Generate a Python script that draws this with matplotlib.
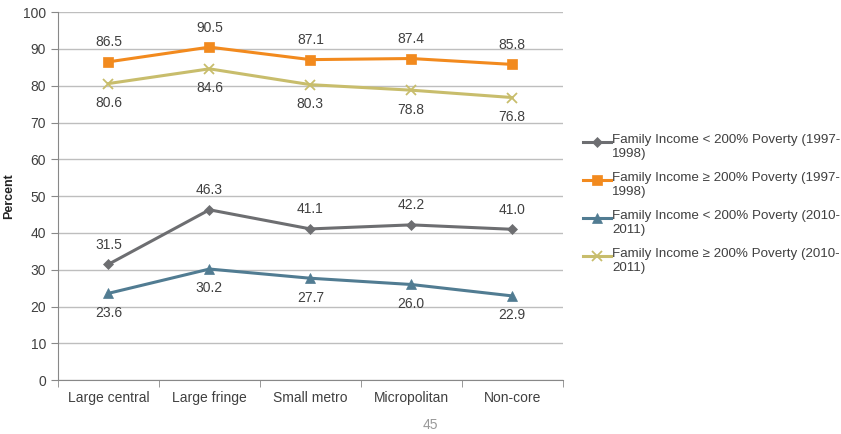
import matplotlib
matplotlib.use("Agg")
import matplotlib.pyplot as plt

plt.rcParams['font.family'] = ['Liberation Sans', 'DejaVu Sans']

categories = ["Large central", "Large fringe", "Small metro", "Micropolitan", "Non-core"]
low_9798 = [31.5, 46.3, 41.1, 42.2, 41.0]
high_9798 = [86.5, 90.5, 87.1, 87.4, 85.8]
low_1011 = [23.6, 30.2, 27.7, 26.0, 22.9]
high_1011 = [80.6, 84.6, 80.3, 78.8, 76.8]
labels = ["Family Income < 200% Poverty (1997-\n1998)",
          "Family Income \u2265 200% Poverty (1997-\n1998)",
          "Family Income < 200% Poverty (2010-\n2011)",
          "Family Income \u2265 200% Poverty (2010-\n2011)"]

series = [
    (low_9798, "#6D6E71", "D", 5, 1),
    (high_9798, "#F28A1E", "s", 7, 1),
    (low_1011, "#517C92", "^", 7, -1),
    (high_1011, "#C8BD6C", "x", 7, -1),
]

W, H = 841, 434
fig = plt.figure(figsize=(W / 100, H / 100), dpi=100)
ax = fig.add_axes([0.069, 0.124, 0.600, 0.848])
x = list(range(len(categories)))
for (vals, col, mk, ms, side), lab in zip(series, labels):
    ax.plot(x, vals, color=col, marker=mk, markersize=ms, linewidth=2.2,
            markeredgewidth=1.3 if mk == "x" else 0.5)
    for xi, v in zip(x, vals):
        ax.annotate(f"{v:.1f}", (xi, v), xytext=(0, 14 * side), textcoords="offset points",
                    ha="center", va="center", fontsize=10, color="#404040")

ax.set_xlim(-0.5, len(categories) - 0.5)
ax.set_ylim(0, 100)
ax.set_yticks(range(0, 101, 10))
ax.set_xticks(x)
ax.set_xticklabels(categories)
ax.set_xticks([i - 0.5 for i in range(len(categories) + 1)], minor=True)
ax.tick_params(axis="x", which="major", length=0, pad=8, labelsize=10, colors="#404040")
ax.tick_params(axis="x", which="minor", length=5, color="#888888")
ax.tick_params(axis="y", length=5, color="#888888", labelsize=10, colors="#404040")
ax.yaxis.grid(True, color="#BEBEBE", linewidth=1)
ax.set_axisbelow(True)
for s in ["top", "right"]:
    ax.spines[s].set_visible(False)
for s in ["left", "bottom"]:
    ax.spines[s].set_color("#888888")
ax.set_ylabel("Percent", fontsize=9, fontweight="bold", color="#222222", labelpad=6)

# legend drawn by hand so the handle lines up with the first text line
for i, ((vals, col, mk, ms, side), lab) in enumerate(zip(series, labels)):
    yy = 1 - (142 + 38 * i) / H
    fig.add_artist(plt.Line2D([583 / W, 611 / W], [yy, yy], color=col, linewidth=2.2,
                              transform=fig.transFigure))
    fig.add_artist(plt.Line2D([597 / W], [yy], color=col, marker=mk, markersize=ms,
                              markeredgewidth=1.3 if mk == "x" else 0.5,
                              transform=fig.transFigure))
    fig.text(612 / W, yy + 8 / H, lab, fontsize=9.6, color="#404040", va="top",
             linespacing=1.25, transform=fig.transFigure)

fig.text(0.512, 0.012, "45", fontsize=10, color="#999999", ha="center")
fig.savefig("out.png", dpi=100)
